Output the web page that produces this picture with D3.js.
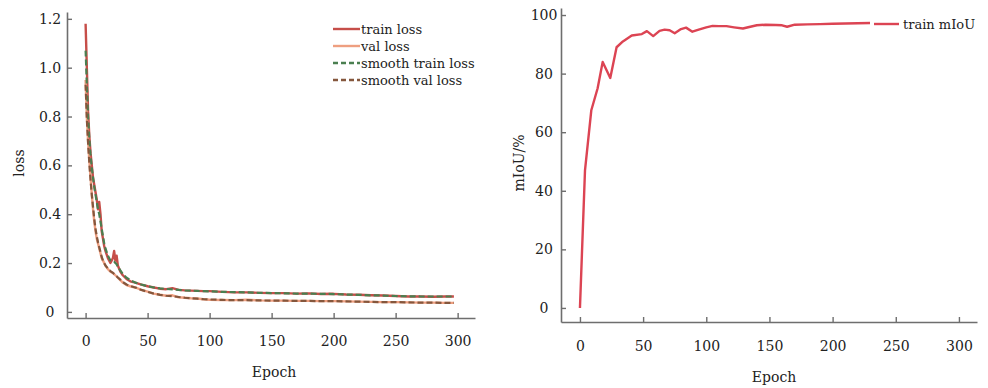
<!DOCTYPE html>
<html>
<head>
<meta charset="utf-8">
<script src="https://cdn.jsdelivr.net/npm/d3@7"></script>
<style>
  html, body { margin: 0; padding: 0; background: #fff; }
  svg { display: block; }
  .tick text { font-family: "DejaVu Serif", serif; font-size: 14px; fill: #222; }
  .lbl { font-family: "DejaVu Serif", serif; font-size: 14px; fill: #222; }
  .leg { font-family: "DejaVu Serif", serif; font-size: 13px; fill: #222; }
</style>
</head>
<body>
<svg id="chart" width="988" height="388"></svg>
<script>
// ===== 数据：loss 曲线（按 epoch 取点）=====
const lossEpochs = [0,1,2,3,4,5,6,7,8,9, 10,11,12,13,14,15,16,18,20,22,
  23,24,25,26,28,30,33,36,40,45, 50,55,60,65,70,75,80,85,90,95,
  100,110,120,130,140,150,160,170,180,190, 200,210,220,230,240,250,260,270,280,290, 297];

const trainLoss = [1.18,1.0,0.82,0.72,0.65,0.6,0.55,0.52,0.49,0.46,
  0.42,0.45,0.4,0.33,0.3,0.27,0.25,0.22,0.2,0.22,
  0.25,0.21,0.23,0.19,0.165,0.15,0.135,0.125,0.12,0.112,
  0.105,0.1,0.095,0.093,0.097,0.09,0.088,0.087,0.086,0.085,
  0.085,0.082,0.08,0.08,0.078,0.077,0.077,0.075,0.076,0.073,
  0.074,0.071,0.07,0.068,0.067,0.065,0.063,0.063,0.062,0.063, 0.063];

const valLoss = [0.95,0.8,0.7,0.62,0.55,0.48,0.42,0.37,0.33,0.3,
  0.28,0.26,0.24,0.22,0.21,0.2,0.19,0.175,0.165,0.16,
  0.155,0.15,0.145,0.14,0.13,0.12,0.11,0.105,0.1,0.09,
  0.083,0.075,0.07,0.066,0.068,0.06,0.058,0.056,0.055,0.052,
  0.05,0.049,0.048,0.05,0.047,0.046,0.046,0.045,0.045,0.044,
  0.044,0.043,0.042,0.041,0.04,0.04,0.039,0.038,0.038,0.037, 0.037];

const smoothTrainLoss = [1.07,0.93,0.8,0.71,0.64,0.59,0.55,0.51,0.48,0.45,
  0.42,0.4,0.37,0.34,0.31,0.28,0.26,0.23,0.21,0.205,
  0.205,0.2,0.195,0.185,0.17,0.155,0.14,0.13,0.12,0.112,
  0.105,0.1,0.096,0.094,0.092,0.09,0.088,0.087,0.086,0.085,
  0.084,0.082,0.081,0.08,0.078,0.077,0.076,0.075,0.075,0.074,
  0.073,0.071,0.07,0.068,0.067,0.065,0.064,0.063,0.063,0.063, 0.063];

const smoothValLoss = [0.93,0.79,0.69,0.61,0.54,0.48,0.43,0.38,0.34,0.31,
  0.285,0.265,0.245,0.225,0.21,0.2,0.19,0.178,0.167,0.16,
  0.155,0.15,0.146,0.141,0.132,0.122,0.112,0.106,0.1,0.09,
  0.082,0.075,0.07,0.066,0.064,0.061,0.058,0.056,0.054,0.052,
  0.051,0.049,0.048,0.048,0.047,0.046,0.046,0.045,0.045,0.044,
  0.044,0.043,0.042,0.041,0.04,0.04,0.039,0.038,0.038,0.037, 0.037];

// ===== 数据：mIoU =====
const miouEpochs = [0,4,9,14,18,24,29,34,41,49, 53,58,63,67,71,75,80,84,89,94,
  100,105,110,116,122,129,134,140,147,155, 160,164,170,180,190,200,210,220,230,240,
  250,260,270,280,290,297];
const trainMiou = [0,47,67.5,75,84,78.5,89,91,93,93.5, 94.5,92.8,94.6,95,94.8,93.8,95.2,95.7,94.3,95,
  95.8,96.3,96.2,96.2,95.8,95.4,95.9,96.5,96.7,96.6, 96.5,96,96.7,96.8,96.9,97,97.1,97.2,97.3,97.3,
  97.4,97.4,97.5,97.5,97.5,97.6];

// 刻度
const xTicks = [0, 50, 100, 150, 200, 250, 300];
const lossTicks = [0, 0.2, 0.4, 0.6, 0.8, 1.0, 1.2];
const miouTicks = [0, 20, 40, 60, 80, 100];

const lossSeries = [
  { name: "train loss", values: trainLoss, color: "#c64e49", dash: null, w: 2.4 },
  { name: "val loss", values: valLoss, color: "#ee9f80", dash: null, w: 2.4 },
  { name: "smooth train loss", values: smoothTrainLoss, color: "#4a7f50", dash: "6,3", w: 2.2 },
  { name: "smooth val loss", values: smoothValLoss, color: "#85573d", dash: "6,3", w: 2.2 }
];

const svg = d3.select("#chart");
const axisColor = "#6e6e6e";

function styleAxis(g) {
  g.select(".domain").attr("stroke", axisColor).attr("stroke-width", 1.6);
  g.selectAll(".tick line").attr("stroke", axisColor).attr("stroke-width", 1.4);
}

// ===== 左图：loss =====
const xL = d3.scaleLinear().domain([-15, 314]).range([67, 475]);
const yL = d3.scaleLinear().domain([-0.025, 1.228]).range([318, 12]);

const left = svg.append("g");

const lineL = (vals) => d3.line()
  .x((d, i) => xL(lossEpochs[i]))
  .y((d) => yL(d))(vals);

lossSeries.forEach((s) => {
  left.append("path")
    .attr("d", lineL(s.values))
    .attr("fill", "none")
    .attr("stroke", s.color)
    .attr("stroke-width", s.w)
    .attr("stroke-dasharray", s.dash)
    .attr("stroke-linejoin", "round");
});

left.append("g")
  .attr("transform", "translate(0,318)")
  .call(d3.axisBottom(xL).tickValues(xTicks).tickFormat(d3.format("d")).tickSize(-5).tickSizeOuter(0).tickPadding(18))
  .call(styleAxis);

left.append("g")
  .attr("transform", "translate(67,0)")
  .call(d3.axisLeft(yL).tickValues(lossTicks).tickFormat((d) => d === 0 ? "0" : d3.format(".1f")(d)).tickSize(-5).tickSizeOuter(0))
  .call(styleAxis)
  .call((g) => g.selectAll(".tick text").attr("x", -17).attr("text-anchor", "middle"));

left.append("text").attr("class", "lbl")
  .attr("x", 274).attr("y", 377).attr("text-anchor", "middle").text("Epoch");
left.append("text").attr("class", "lbl")
  .attr("transform", "translate(24,163) rotate(-90)").attr("text-anchor", "middle").text("loss");

// 图例
const legL = left.append("g");
lossSeries.forEach((s, i) => {
  const y = 29 + i * 17;
  legL.append("line")
    .attr("x1", 333).attr("x2", 360).attr("y1", y).attr("y2", y)
    .attr("stroke", s.color).attr("stroke-width", 2.4)
    .attr("stroke-dasharray", s.dash ? "5,3" : null);
  legL.append("text").attr("class", "leg")
    .attr("x", 361).attr("y", y).attr("dy", "0.35em").text(s.name);
});

// ===== 右图：mIoU =====
const xR = d3.scaleLinear().domain([-15, 314.3]).range([561, 977]);
const yR = d3.scaleLinear().domain([-4.8, 102.4]).range([322, 8]);
const right = svg.append("g");
const miouColor = "#dc4453";

right.append("path")
  .attr("d", d3.line().x((d, i) => xR(miouEpochs[i])).y((d) => yR(d))(trainMiou))
  .attr("fill", "none")
  .attr("stroke", miouColor)
  .attr("stroke-width", 2.4)
  .attr("stroke-linejoin", "round");

right.append("g")
  .attr("transform", "translate(0,322)")
  .call(d3.axisBottom(xR).tickValues(xTicks).tickFormat(d3.format("d")).tickSize(-5).tickSizeOuter(0).tickPadding(19))
  .call(styleAxis);

right.append("g")
  .attr("transform", "translate(561,0)")
  .call(d3.axisLeft(yR).tickValues(miouTicks).tickFormat(d3.format("d")).tickSize(-5).tickSizeOuter(0))
  .call(styleAxis)
  .call((g) => g.selectAll(".tick text").attr("x", -17).attr("text-anchor", "middle"));

right.append("text").attr("class", "lbl")
  .attr("x", 774).attr("y", 382).attr("text-anchor", "middle").text("Epoch");
right.append("text").attr("class", "lbl")
  .attr("transform", "translate(524,163) rotate(-90)").attr("text-anchor", "middle").text("mIoU/%");

// 图例（白底遮住线尾）
right.append("rect").attr("x", 870).attr("y", 8).attr("width", 118).attr("height", 32).attr("fill", "#fff");
right.append("line")
  .attr("x1", 874).attr("x2", 899).attr("y1", 24).attr("y2", 24)
  .attr("stroke", miouColor).attr("stroke-width", 2.4);
right.append("text").attr("class", "leg")
  .attr("x", 903).attr("y", 24).attr("dy", "0.35em").text("train mIoU");
</script>
</body>
</html>
